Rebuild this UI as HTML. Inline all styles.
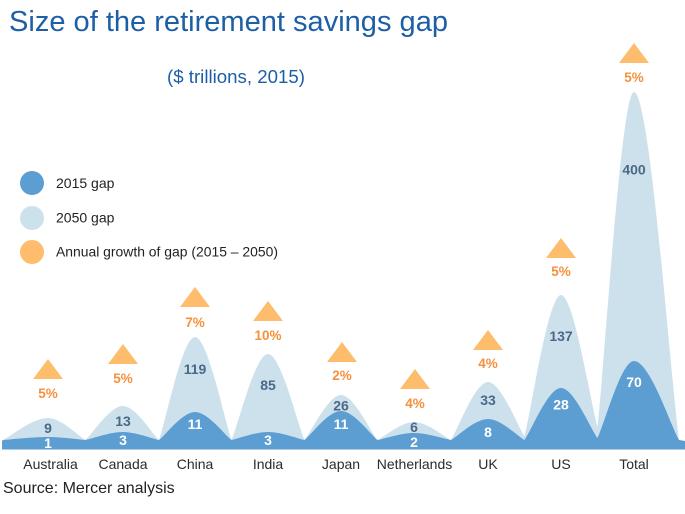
<!DOCTYPE html>
<html>
<head>
<meta charset="utf-8">
<style>
html,body{margin:0;padding:0;background:#fff;}
svg{display:block;}
text{font-family:"Liberation Sans",Arial,sans-serif;}
</style>
</head>
<body>
<svg width="685" height="514" viewBox="0 0 685 514" xmlns="http://www.w3.org/2000/svg">
<rect x="0" y="0" width="685" height="514" fill="#ffffff"/>

<!-- Title -->
<text x="9" y="31" font-size="29" fill="#1d5fa7" textLength="439" lengthAdjust="spacingAndGlyphs">Size of the retirement savings gap</text>
<text x="167" y="83" font-size="18.5" fill="#1d5fa7" textLength="138" lengthAdjust="spacingAndGlyphs">($ trillions, 2015)</text>

<!-- Legend -->
<circle cx="32" cy="183" r="12" fill="#5c9dd2"/>
<circle cx="32" cy="218" r="12" fill="#cde1ec"/>
<circle cx="32" cy="252" r="12" fill="#fdbd6c"/>
<text x="56" y="188" font-size="14" fill="#222">2015 gap</text>
<text x="56" y="222.5" font-size="14" fill="#222">2050 gap</text>
<text x="56" y="256.5" font-size="14" fill="#222" textLength="222" lengthAdjust="spacingAndGlyphs">Annual growth of gap (2015 – 2050)</text>

<!-- 2050 light series -->
<path fill="#cde1ec" d="M 2,441 L 3,440
C 12,435.6 32.25,418 48,418
C 61.1,418 78,435.6 85.5,440
C 93,433.2 109.9,406 123,406
C 135.6,406 151.8,433.2 159,440
C 166.2,419.4 182.4,337 195,337
C 207.8,337 224.2,419.4 231.5,440
C 238.8,422.8 255.2,354 268,354
C 280.8,354 297.2,422.8 304.5,440
C 311.8,431 328.2,395 341,395
C 353.8,395 370.2,431 377.5,440
C 384.8,436.4 401.2,422 414,422
C 427,422 443.6,436.4 451,440
C 458.4,428.4 475.05,382 488,382
C 500.8,382 517.2,425.2 524.5,436
C 531.8,407.8 548.2,295 561,295
C 573.8,295 590.2,400.6 597.5,427
C 604.8,360 621.2,92 634,92
C 649.75,92 670,370.4 679,440
L 685,441 L 685,449.5 L 2,449.5 Z"/>

<!-- 2015 dark series -->
<path fill="#5c9dd2" d="M 2,441 L 3,440
C 12,439.4 32.25,437 48,437
C 61.1,437 78,439.4 85.5,440
C 93,438.4 109.9,432 123,432
C 135.6,432 151.8,438.4 159,440
C 166.2,434.4 182.4,412 195,412
C 207.8,412 224.2,434.4 231.5,440
C 238.8,438.4 255.2,432 268,432
C 280.8,432 297.2,438.4 304.5,440
C 311.8,434.2 328.2,411 341,411
C 353.8,411 370.2,434.2 377.5,440
C 384.8,438.6 401.2,433 414,433
C 427,433 443.6,438.6 451,440
C 458.4,435.8 475.05,419 488,419
C 500.8,419 517.2,435.8 524.5,440
C 531.8,429.6 548.2,388 561,388
C 573.8,388 590.2,428 597.5,438
C 604.8,422.6 621.2,361 634,361
C 649.75,361 670,424.2 679,440
L 685,441 L 685,449.5 L 2,449.5 Z"/>

<!-- Light series labels -->
<g font-size="14" font-weight="bold" fill="#4c6888" text-anchor="middle">
<text x="48" y="433">9</text>
<text x="123" y="426">13</text>
<text x="195" y="374">119</text>
<text x="268" y="390">85</text>
<text x="341" y="410.5">26</text>
<text x="414" y="432">6</text>
<text x="488" y="405">33</text>
<text x="561" y="341">137</text>
<text x="634" y="174.5">400</text>
</g>

<!-- Dark series labels -->
<g font-size="14" font-weight="bold" fill="#ffffff" text-anchor="middle">
<text x="48" y="448">1</text>
<text x="123" y="445">3</text>
<text x="195" y="429">11</text>
<text x="268" y="445">3</text>
<text x="341" y="429">11</text>
<text x="414" y="447">2</text>
<text x="488" y="437">8</text>
<text x="561" y="409.5">28</text>
<text x="634" y="387">70</text>
</g>

<!-- Growth triangles -->
<g fill="#fdbd6c">
<polygon points="48,359 63,379 33,379"/>
<polygon points="123,344 138,364 108,364"/>
<polygon points="195,287 210,307 180,307"/>
<polygon points="268,301 283,321 253,321"/>
<polygon points="342,342 357,362 327,362"/>
<polygon points="415,369 430,389 400,389"/>
<polygon points="488,330 503,350 473,350"/>
<polygon points="561,238 576,258 546,258"/>
<polygon points="634,43 649,63 619,63"/>
</g>
<g font-size="13.5" font-weight="bold" fill="#f5903c" text-anchor="middle">
<text x="48" y="398">5%</text>
<text x="123" y="383">5%</text>
<text x="195" y="327">7%</text>
<text x="268" y="340">10%</text>
<text x="342" y="380">2%</text>
<text x="415" y="408">4%</text>
<text x="488" y="368">4%</text>
<text x="561" y="276">5%</text>
<text x="634" y="82">5%</text>
</g>

<!-- Category labels -->
<g font-size="14" fill="#2b2b2b" text-anchor="middle">
<text x="50.5" y="469">Australia</text>
<text x="123" y="469">Canada</text>
<text x="195" y="469">China</text>
<text x="268" y="469">India</text>
<text x="341" y="469">Japan</text>
<text x="414.5" y="469">Netherlands</text>
<text x="488" y="469">UK</text>
<text x="561" y="469">US</text>
<text x="634" y="469">Total</text>
</g>

<!-- Source -->
<text x="3" y="493" font-size="16" fill="#222">Source: Mercer analysis</text>
</svg>
</body>
</html>
